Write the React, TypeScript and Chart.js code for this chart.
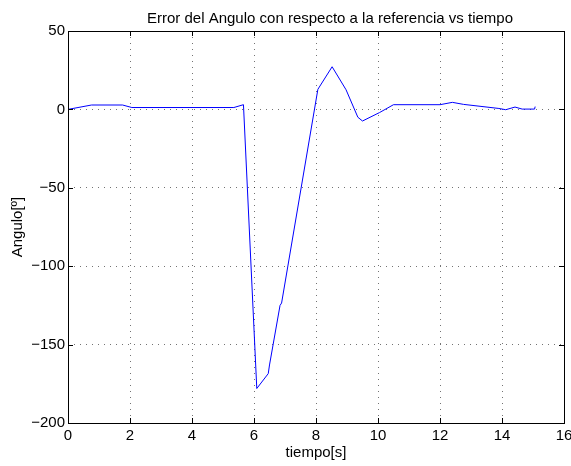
import React, { useEffect, useRef } from "react";
import { Chart, registerables } from "chart.js";

Chart.register(...registerables);

const titleText = "Error del Angulo con respecto a la referencia vs tiempo";
const xLabel = "tiempo[s]";
const yLabel = "Angulo[º]";

const timeS = [0, 0.76, 1.76, 2.06, 5.35, 5.66, 6.09, 6.46, 6.5, 6.84, 6.89, 8.06, 8.52, 8.97, 9.35, 9.5, 10.05, 10.5, 12.0, 12.4, 12.76, 13.9, 14.12, 14.42, 14.65, 15.05, 15.07];
const angleDeg = [0, 2.8, 2.8, 1.2, 1.2, 3.0, -178, -168.5, -163, -125, -123.5, 12.8, 27.2, 12.5, -5, -7.4, -2, 3, 3, 4.5, 3.2, 0.6, -0.2, 1.5, 0.2, 0.2, 1.8];

const xMin = 0, xMax = 16, xStep = 2;
const yMin = -200, yMax = 50, yStep = 50;

const FONT = "'Liberation Sans', Arial, Helvetica, sans-serif";
const FS = 15;

const framePlugin = {
  id: "matlabFrame",
  beforeDraw(chart: any) {
    const ctx = chart.ctx;
    ctx.save();
    ctx.fillStyle = "#ffffff";
    ctx.fillRect(0, 0, chart.width, chart.height);
    ctx.restore();
  },
  afterDraw(chart: any) {
    const ctx = chart.ctx;
    const { left, right, top, bottom } = chart.chartArea;
    const xs = chart.scales.x;
    const ys = chart.scales.y;
    ctx.save();
    ctx.strokeStyle = "#000000";
    ctx.lineWidth = 1;
    ctx.setLineDash([]);
    ctx.strokeRect(Math.round(left) + 0.5, Math.round(top) + 0.5, Math.round(right - left), Math.round(bottom - top));
    const tl = 5;
    ctx.beginPath();
    xs.ticks.forEach((t: any) => {
      const px = Math.round(xs.getPixelForValue(t.value)) + 0.5;
      ctx.moveTo(px, bottom);
      ctx.lineTo(px, bottom - tl);
      ctx.moveTo(px, top);
      ctx.lineTo(px, top + tl);
    });
    ys.ticks.forEach((t: any) => {
      const py = Math.round(ys.getPixelForValue(t.value)) + 0.5;
      ctx.moveTo(left, py);
      ctx.lineTo(left + tl, py);
      ctx.moveTo(right, py);
      ctx.lineTo(right - tl, py);
    });
    ctx.stroke();
    ctx.fillStyle = "#000000";
    ctx.font = `${FS}px ${FONT}`;
    ctx.textAlign = "center";
    ctx.textBaseline = "alphabetic";
    ctx.fillText(titleText, (left + right) / 2 + 14, 23);
    ctx.restore();
  },
};

export default function App() {
  const ref = useRef<HTMLCanvasElement | null>(null);
  useEffect(() => {
    if (!ref.current) return;
    const points = timeS.map((t, i) => ({ x: t, y: angleDeg[i] }));
    const fmt = (v: any) => String(v).replace("-", "\u2212");
    const chart = new Chart(ref.current, {
      type: "line",
      data: {
        datasets: [
          {
            data: points,
            borderColor: "#0000ff",
            borderWidth: 1,
            pointRadius: 0,
            tension: 0,
            fill: false,
          },
        ],
      },
      options: {
        animation: false,
        responsive: false,
        devicePixelRatio: 1,
        layout: { padding: { top: 31, right: 7, left: 0, bottom: 0 } },
        plugins: { legend: { display: false }, tooltip: { enabled: false }, title: { display: false } },
        scales: {
          x: {
            type: "linear",
            min: xMin,
            max: xMax,
            afterFit: (s: any) => { s.height = 43; s.paddingLeft = 0; s.paddingRight = 0; },
            ticks: { stepSize: xStep, padding: 4, color: "#000", font: { family: FONT, size: FS }, callback: fmt },
            grid: { color: "rgba(0,0,0,0.55)", drawTicks: false, lineWidth: 1 },
            border: { display: false, dash: [1, 5] },
            title: { display: true, text: xLabel, color: "#000", font: { family: FONT, size: FS }, padding: { top: 0, bottom: 4 } },
          },
          y: {
            type: "linear",
            min: yMin,
            max: yMax,
            afterFit: (s: any) => { s.width = 68; s.paddingTop = 0; s.paddingBottom = 0; },
            ticks: { stepSize: yStep, padding: 3, color: "#000", font: { family: FONT, size: FS }, callback: fmt },
            grid: { color: "rgba(0,0,0,0.55)", drawTicks: false, lineWidth: 1 },
            border: { display: false, dash: [1, 5] },
            title: { display: true, text: yLabel, color: "#000", font: { family: FONT, size: FS }, padding: { top: 9, bottom: 0 } },
          },
        },
      },
      plugins: [framePlugin],
    } as any);
    return () => chart.destroy();
  }, []);
  return (
    <div style={{ position: "absolute", left: 0, top: 0 }}>
      <canvas ref={ref} width={571} height={466} style={{ display: "block" }} />
    </div>
  );
}
